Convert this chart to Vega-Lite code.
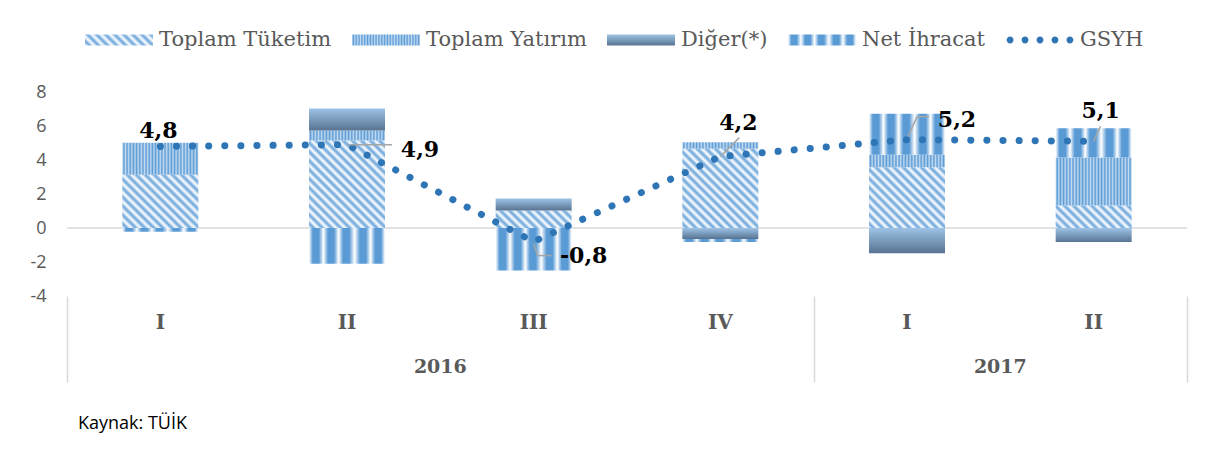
{
  "$schema": "https://vega.github.io/schema/vega-lite/v6.json",
  "width": 1120,
  "height": 204,
  "autosize": {"type": "none"},
  "padding": {"left": 67, "top": 92, "right": 28, "bottom": 154},
  "background": "white",
  "config": {
    "view": {"stroke": null},
    "scale": {"continuousPadding": 0},
    "axisY": {"labelOverlap": false, "labelBound": false, "labelFlush": false, "domain": false, "ticks": false, "grid": false, "labelFont": "Open Sans", "labelFontSize": 18, "labelColor": "#595959", "labelPadding": 21, "tickCount": 7},
    "axisX": {"labels": false, "domain": false, "grid": false, "ticks": true, "tickSize": 86, "tickColor": "#d9d9d9", "tickWidth": 1.5},
    "locale": {"number": {"decimal": ",", "thousands": ".", "grouping": [3], "currency": ["", ""], "minus": "-"}}
  },
  "title": {"text": "Kaynak: TÜİK", "orient": "bottom", "anchor": "start", "frame": "group", "font": "Open Sans", "fontSize": 18, "fontWeight": "normal", "color": "#000000", "offset": 32, "dx": 11},
  "datasets": {
    "comp": [
      {"idx": 0, "period": "2016-I", "component": "Toplam Tüketim", "order": 1, "value": 3.13},
      {"idx": 0, "period": "2016-I", "component": "Toplam Yatırım", "order": 2, "value": 1.88},
      {"idx": 0, "period": "2016-I", "component": "Net İhracat", "order": 4, "value": -0.22},
      {"idx": 1, "period": "2016-II", "component": "Toplam Tüketim", "order": 1, "value": 5.15},
      {"idx": 1, "period": "2016-II", "component": "Toplam Yatırım", "order": 2, "value": 0.59},
      {"idx": 1, "period": "2016-II", "component": "Diğer(*)", "order": 3, "value": 1.29},
      {"idx": 1, "period": "2016-II", "component": "Net İhracat", "order": 4, "value": -2.1},
      {"idx": 2, "period": "2016-III", "component": "Toplam Tüketim", "order": 1, "value": 1.03},
      {"idx": 2, "period": "2016-III", "component": "Diğer(*)", "order": 3, "value": 0.7},
      {"idx": 2, "period": "2016-III", "component": "Net İhracat", "order": 4, "value": -2.5},
      {"idx": 3, "period": "2016-IV", "component": "Toplam Tüketim", "order": 1, "value": 4.66},
      {"idx": 3, "period": "2016-IV", "component": "Toplam Yatırım", "order": 2, "value": 0.39},
      {"idx": 3, "period": "2016-IV", "component": "Diğer(*)", "order": 3, "value": -0.64},
      {"idx": 3, "period": "2016-IV", "component": "Net İhracat", "order": 4, "value": -0.19},
      {"idx": 4, "period": "2017-I", "component": "Toplam Tüketim", "order": 1, "value": 3.58},
      {"idx": 4, "period": "2017-I", "component": "Toplam Yatırım", "order": 2, "value": 0.73},
      {"idx": 4, "period": "2017-I", "component": "Diğer(*)", "order": 3, "value": -1.48},
      {"idx": 4, "period": "2017-I", "component": "Net İhracat", "order": 4, "value": 2.41},
      {"idx": 5, "period": "2017-II", "component": "Toplam Tüketim", "order": 1, "value": 1.32},
      {"idx": 5, "period": "2017-II", "component": "Toplam Yatırım", "order": 2, "value": 2.83},
      {"idx": 5, "period": "2017-II", "component": "Diğer(*)", "order": 3, "value": -0.83},
      {"idx": 5, "period": "2017-II", "component": "Net İhracat", "order": 4, "value": 1.72}
    ],
    "gdp": [
      {"idx": 0, "period": "2016-I", "year": "2016", "q": "I", "series": "GSYH", "gsyh": 4.8},
      {"idx": 1, "period": "2016-II", "year": "2016", "q": "II", "series": "GSYH", "gsyh": 4.9},
      {"idx": 2, "period": "2016-III", "year": "2016", "q": "III", "series": "GSYH", "gsyh": -0.8},
      {"idx": 3, "period": "2016-IV", "year": "2016", "q": "IV", "series": "GSYH", "gsyh": 4.2},
      {"idx": 4, "period": "2017-I", "year": "2017", "q": "I", "series": "GSYH", "gsyh": 5.2},
      {"idx": 5, "period": "2017-II", "year": "2017", "q": "II", "series": "GSYH", "gsyh": 5.1}
    ]
  },
  "layer": [
    {
      "data": {"values": [{}]},
      "mark": {"type": "rule", "color": "#d9d9d9", "strokeWidth": 1.5},
      "encoding": {"y": {"datum": 0, "type": "quantitative", "axis": {"title": null, "values": [-4, -2, 0, 2, 4, 6, 8]}}}
    },
    {
      "data": {"name": "comp"},
      "transform": [
        {"stack": "value", "groupby": ["idx"], "sort": [{"field": "order", "order": "ascending"}], "as": ["v0", "v1"]}
      ],
      "mark": {"type": "bar", "width": 76, "strokeWidth": 0},
      "encoding": {
        "x": {"field": "idx", "type": "quantitative", "scale": {"domain": [-0.5, 5.5], "nice": false, "zero": false, "padding": 0},
          "axis": {"title": null, "values": [-0.5, 3.5, 5.5]}},
        "y": {"field": "v0", "type": "quantitative", "scale": {"domain": [-4, 8], "nice": false, "zero": false, "padding": 0},
          "axis": {"title": null, "values": [-4, -2, 0, 2, 4, 6, 8]}},
        "y2": {"field": "v1"},
        "fill": {
          "condition": [
            {"test": "datum.component === 'Toplam Tüketim' && datum.idx === 0", "value": {"gradient": "linear", "x1": 0, "y1": 1, "x2": 1.583, "y2": -0.124, "stops": [{"offset":0,"color":"#ffffff"},{"offset":0.025,"color":"#6aa5db"},{"offset":0.05,"color":"#ffffff"},{"offset":0.075,"color":"#6aa5db"},{"offset":0.1,"color":"#ffffff"},{"offset":0.125,"color":"#6aa5db"},{"offset":0.15,"color":"#ffffff"},{"offset":0.175,"color":"#6aa5db"},{"offset":0.2,"color":"#ffffff"},{"offset":0.225,"color":"#6aa5db"},{"offset":0.25,"color":"#ffffff"},{"offset":0.275,"color":"#6aa5db"},{"offset":0.3,"color":"#ffffff"},{"offset":0.325,"color":"#6aa5db"},{"offset":0.35,"color":"#ffffff"},{"offset":0.375,"color":"#6aa5db"},{"offset":0.4,"color":"#ffffff"},{"offset":0.425,"color":"#6aa5db"},{"offset":0.45,"color":"#ffffff"},{"offset":0.475,"color":"#6aa5db"},{"offset":0.5,"color":"#ffffff"},{"offset":0.525,"color":"#6aa5db"},{"offset":0.55,"color":"#ffffff"},{"offset":0.575,"color":"#6aa5db"},{"offset":0.6,"color":"#ffffff"},{"offset":0.625,"color":"#6aa5db"},{"offset":0.65,"color":"#ffffff"},{"offset":0.675,"color":"#6aa5db"},{"offset":0.7,"color":"#ffffff"},{"offset":0.725,"color":"#6aa5db"},{"offset":0.75,"color":"#ffffff"},{"offset":0.775,"color":"#6aa5db"},{"offset":0.8,"color":"#ffffff"},{"offset":0.825,"color":"#6aa5db"},{"offset":0.85,"color":"#ffffff"},{"offset":0.875,"color":"#6aa5db"},{"offset":0.9,"color":"#ffffff"},{"offset":0.925,"color":"#6aa5db"},{"offset":0.95,"color":"#ffffff"},{"offset":0.975,"color":"#6aa5db"},{"offset":1,"color":"#ffffff"}]}},
            {"test": "datum.component === 'Toplam Tüketim' && datum.idx === 1", "value": {"gradient": "linear", "x1": 0, "y1": 1, "x2": 1.017, "y2": -0.178, "stops": [{"offset":0,"color":"#ffffff"},{"offset":0.025,"color":"#6aa5db"},{"offset":0.05,"color":"#ffffff"},{"offset":0.075,"color":"#6aa5db"},{"offset":0.1,"color":"#ffffff"},{"offset":0.125,"color":"#6aa5db"},{"offset":0.15,"color":"#ffffff"},{"offset":0.175,"color":"#6aa5db"},{"offset":0.2,"color":"#ffffff"},{"offset":0.225,"color":"#6aa5db"},{"offset":0.25,"color":"#ffffff"},{"offset":0.275,"color":"#6aa5db"},{"offset":0.3,"color":"#ffffff"},{"offset":0.325,"color":"#6aa5db"},{"offset":0.35,"color":"#ffffff"},{"offset":0.375,"color":"#6aa5db"},{"offset":0.4,"color":"#ffffff"},{"offset":0.425,"color":"#6aa5db"},{"offset":0.45,"color":"#ffffff"},{"offset":0.475,"color":"#6aa5db"},{"offset":0.5,"color":"#ffffff"},{"offset":0.525,"color":"#6aa5db"},{"offset":0.55,"color":"#ffffff"},{"offset":0.575,"color":"#6aa5db"},{"offset":0.6,"color":"#ffffff"},{"offset":0.625,"color":"#6aa5db"},{"offset":0.65,"color":"#ffffff"},{"offset":0.675,"color":"#6aa5db"},{"offset":0.7,"color":"#ffffff"},{"offset":0.725,"color":"#6aa5db"},{"offset":0.75,"color":"#ffffff"},{"offset":0.775,"color":"#6aa5db"},{"offset":0.8,"color":"#ffffff"},{"offset":0.825,"color":"#6aa5db"},{"offset":0.85,"color":"#ffffff"},{"offset":0.875,"color":"#6aa5db"},{"offset":0.9,"color":"#ffffff"},{"offset":0.925,"color":"#6aa5db"},{"offset":0.95,"color":"#ffffff"},{"offset":0.975,"color":"#6aa5db"},{"offset":1,"color":"#ffffff"}]}},
            {"test": "datum.component === 'Toplam Tüketim' && datum.idx === 2", "value": {"gradient": "linear", "x1": 0, "y1": 1, "x2": 2.255, "y2": 0.466, "stops": [{"offset":0,"color":"#ffffff"},{"offset":0.025,"color":"#6aa5db"},{"offset":0.05,"color":"#ffffff"},{"offset":0.075,"color":"#6aa5db"},{"offset":0.1,"color":"#ffffff"},{"offset":0.125,"color":"#6aa5db"},{"offset":0.15,"color":"#ffffff"},{"offset":0.175,"color":"#6aa5db"},{"offset":0.2,"color":"#ffffff"},{"offset":0.225,"color":"#6aa5db"},{"offset":0.25,"color":"#ffffff"},{"offset":0.275,"color":"#6aa5db"},{"offset":0.3,"color":"#ffffff"},{"offset":0.325,"color":"#6aa5db"},{"offset":0.35,"color":"#ffffff"},{"offset":0.375,"color":"#6aa5db"},{"offset":0.4,"color":"#ffffff"},{"offset":0.425,"color":"#6aa5db"},{"offset":0.45,"color":"#ffffff"},{"offset":0.475,"color":"#6aa5db"},{"offset":0.5,"color":"#ffffff"},{"offset":0.525,"color":"#6aa5db"},{"offset":0.55,"color":"#ffffff"},{"offset":0.575,"color":"#6aa5db"},{"offset":0.6,"color":"#ffffff"},{"offset":0.625,"color":"#6aa5db"},{"offset":0.65,"color":"#ffffff"},{"offset":0.675,"color":"#6aa5db"},{"offset":0.7,"color":"#ffffff"},{"offset":0.725,"color":"#6aa5db"},{"offset":0.75,"color":"#ffffff"},{"offset":0.775,"color":"#6aa5db"},{"offset":0.8,"color":"#ffffff"},{"offset":0.825,"color":"#6aa5db"},{"offset":0.85,"color":"#ffffff"},{"offset":0.875,"color":"#6aa5db"},{"offset":0.9,"color":"#ffffff"},{"offset":0.925,"color":"#6aa5db"},{"offset":0.95,"color":"#ffffff"},{"offset":0.975,"color":"#6aa5db"},{"offset":1,"color":"#ffffff"}]}},
            {"test": "datum.component === 'Toplam Tüketim' && datum.idx === 3", "value": {"gradient": "linear", "x1": 0, "y1": 1, "x2": 1.130, "y2": -0.189, "stops": [{"offset":0,"color":"#ffffff"},{"offset":0.025,"color":"#6aa5db"},{"offset":0.05,"color":"#ffffff"},{"offset":0.075,"color":"#6aa5db"},{"offset":0.1,"color":"#ffffff"},{"offset":0.125,"color":"#6aa5db"},{"offset":0.15,"color":"#ffffff"},{"offset":0.175,"color":"#6aa5db"},{"offset":0.2,"color":"#ffffff"},{"offset":0.225,"color":"#6aa5db"},{"offset":0.25,"color":"#ffffff"},{"offset":0.275,"color":"#6aa5db"},{"offset":0.3,"color":"#ffffff"},{"offset":0.325,"color":"#6aa5db"},{"offset":0.35,"color":"#ffffff"},{"offset":0.375,"color":"#6aa5db"},{"offset":0.4,"color":"#ffffff"},{"offset":0.425,"color":"#6aa5db"},{"offset":0.45,"color":"#ffffff"},{"offset":0.475,"color":"#6aa5db"},{"offset":0.5,"color":"#ffffff"},{"offset":0.525,"color":"#6aa5db"},{"offset":0.55,"color":"#ffffff"},{"offset":0.575,"color":"#6aa5db"},{"offset":0.6,"color":"#ffffff"},{"offset":0.625,"color":"#6aa5db"},{"offset":0.65,"color":"#ffffff"},{"offset":0.675,"color":"#6aa5db"},{"offset":0.7,"color":"#ffffff"},{"offset":0.725,"color":"#6aa5db"},{"offset":0.75,"color":"#ffffff"},{"offset":0.775,"color":"#6aa5db"},{"offset":0.8,"color":"#ffffff"},{"offset":0.825,"color":"#6aa5db"},{"offset":0.85,"color":"#ffffff"},{"offset":0.875,"color":"#6aa5db"},{"offset":0.9,"color":"#ffffff"},{"offset":0.925,"color":"#6aa5db"},{"offset":0.95,"color":"#ffffff"},{"offset":0.975,"color":"#6aa5db"},{"offset":1,"color":"#ffffff"}]}},
            {"test": "datum.component === 'Toplam Tüketim' && datum.idx === 4", "value": {"gradient": "linear", "x1": 0, "y1": 1, "x2": 1.448, "y2": -0.163, "stops": [{"offset":0,"color":"#ffffff"},{"offset":0.025,"color":"#6aa5db"},{"offset":0.05,"color":"#ffffff"},{"offset":0.075,"color":"#6aa5db"},{"offset":0.1,"color":"#ffffff"},{"offset":0.125,"color":"#6aa5db"},{"offset":0.15,"color":"#ffffff"},{"offset":0.175,"color":"#6aa5db"},{"offset":0.2,"color":"#ffffff"},{"offset":0.225,"color":"#6aa5db"},{"offset":0.25,"color":"#ffffff"},{"offset":0.275,"color":"#6aa5db"},{"offset":0.3,"color":"#ffffff"},{"offset":0.325,"color":"#6aa5db"},{"offset":0.35,"color":"#ffffff"},{"offset":0.375,"color":"#6aa5db"},{"offset":0.4,"color":"#ffffff"},{"offset":0.425,"color":"#6aa5db"},{"offset":0.45,"color":"#ffffff"},{"offset":0.475,"color":"#6aa5db"},{"offset":0.5,"color":"#ffffff"},{"offset":0.525,"color":"#6aa5db"},{"offset":0.55,"color":"#ffffff"},{"offset":0.575,"color":"#6aa5db"},{"offset":0.6,"color":"#ffffff"},{"offset":0.625,"color":"#6aa5db"},{"offset":0.65,"color":"#ffffff"},{"offset":0.675,"color":"#6aa5db"},{"offset":0.7,"color":"#ffffff"},{"offset":0.725,"color":"#6aa5db"},{"offset":0.75,"color":"#ffffff"},{"offset":0.775,"color":"#6aa5db"},{"offset":0.8,"color":"#ffffff"},{"offset":0.825,"color":"#6aa5db"},{"offset":0.85,"color":"#ffffff"},{"offset":0.875,"color":"#6aa5db"},{"offset":0.9,"color":"#ffffff"},{"offset":0.925,"color":"#6aa5db"},{"offset":0.95,"color":"#ffffff"},{"offset":0.975,"color":"#6aa5db"},{"offset":1,"color":"#ffffff"}]}},
            {"test": "datum.component === 'Toplam Tüketim' && datum.idx === 5", "value": {"gradient": "linear", "x1": 0, "y1": 1, "x2": 2.182, "y2": 0.340, "stops": [{"offset":0,"color":"#ffffff"},{"offset":0.025,"color":"#6aa5db"},{"offset":0.05,"color":"#ffffff"},{"offset":0.075,"color":"#6aa5db"},{"offset":0.1,"color":"#ffffff"},{"offset":0.125,"color":"#6aa5db"},{"offset":0.15,"color":"#ffffff"},{"offset":0.175,"color":"#6aa5db"},{"offset":0.2,"color":"#ffffff"},{"offset":0.225,"color":"#6aa5db"},{"offset":0.25,"color":"#ffffff"},{"offset":0.275,"color":"#6aa5db"},{"offset":0.3,"color":"#ffffff"},{"offset":0.325,"color":"#6aa5db"},{"offset":0.35,"color":"#ffffff"},{"offset":0.375,"color":"#6aa5db"},{"offset":0.4,"color":"#ffffff"},{"offset":0.425,"color":"#6aa5db"},{"offset":0.45,"color":"#ffffff"},{"offset":0.475,"color":"#6aa5db"},{"offset":0.5,"color":"#ffffff"},{"offset":0.525,"color":"#6aa5db"},{"offset":0.55,"color":"#ffffff"},{"offset":0.575,"color":"#6aa5db"},{"offset":0.6,"color":"#ffffff"},{"offset":0.625,"color":"#6aa5db"},{"offset":0.65,"color":"#ffffff"},{"offset":0.675,"color":"#6aa5db"},{"offset":0.7,"color":"#ffffff"},{"offset":0.725,"color":"#6aa5db"},{"offset":0.75,"color":"#ffffff"},{"offset":0.775,"color":"#6aa5db"},{"offset":0.8,"color":"#ffffff"},{"offset":0.825,"color":"#6aa5db"},{"offset":0.85,"color":"#ffffff"},{"offset":0.875,"color":"#6aa5db"},{"offset":0.9,"color":"#ffffff"},{"offset":0.925,"color":"#6aa5db"},{"offset":0.95,"color":"#ffffff"},{"offset":0.975,"color":"#6aa5db"},{"offset":1,"color":"#ffffff"}]}},
            {"test": "datum.component === 'Toplam Yatırım'", "value": {"gradient": "linear", "x1": 0, "y1": 0, "x2": 1, "y2": 0, "stops": [{"offset":0,"color":"#c2daf1"},{"offset":0.0208,"color":"#5b9bd5"},{"offset":0.0417,"color":"#c2daf1"},{"offset":0.0625,"color":"#5b9bd5"},{"offset":0.0833,"color":"#c2daf1"},{"offset":0.1042,"color":"#5b9bd5"},{"offset":0.125,"color":"#c2daf1"},{"offset":0.1458,"color":"#5b9bd5"},{"offset":0.1667,"color":"#c2daf1"},{"offset":0.1875,"color":"#5b9bd5"},{"offset":0.2083,"color":"#c2daf1"},{"offset":0.2292,"color":"#5b9bd5"},{"offset":0.25,"color":"#c2daf1"},{"offset":0.2708,"color":"#5b9bd5"},{"offset":0.2917,"color":"#c2daf1"},{"offset":0.3125,"color":"#5b9bd5"},{"offset":0.3333,"color":"#c2daf1"},{"offset":0.3542,"color":"#5b9bd5"},{"offset":0.375,"color":"#c2daf1"},{"offset":0.3958,"color":"#5b9bd5"},{"offset":0.4167,"color":"#c2daf1"},{"offset":0.4375,"color":"#5b9bd5"},{"offset":0.4583,"color":"#c2daf1"},{"offset":0.4792,"color":"#5b9bd5"},{"offset":0.5,"color":"#c2daf1"},{"offset":0.5208,"color":"#5b9bd5"},{"offset":0.5417,"color":"#c2daf1"},{"offset":0.5625,"color":"#5b9bd5"},{"offset":0.5833,"color":"#c2daf1"},{"offset":0.6042,"color":"#5b9bd5"},{"offset":0.625,"color":"#c2daf1"},{"offset":0.6458,"color":"#5b9bd5"},{"offset":0.6667,"color":"#c2daf1"},{"offset":0.6875,"color":"#5b9bd5"},{"offset":0.7083,"color":"#c2daf1"},{"offset":0.7292,"color":"#5b9bd5"},{"offset":0.75,"color":"#c2daf1"},{"offset":0.7708,"color":"#5b9bd5"},{"offset":0.7917,"color":"#c2daf1"},{"offset":0.8125,"color":"#5b9bd5"},{"offset":0.8333,"color":"#c2daf1"},{"offset":0.8542,"color":"#5b9bd5"},{"offset":0.875,"color":"#c2daf1"},{"offset":0.8958,"color":"#5b9bd5"},{"offset":0.9167,"color":"#c2daf1"},{"offset":0.9375,"color":"#5b9bd5"},{"offset":0.9583,"color":"#c2daf1"},{"offset":0.9792,"color":"#5b9bd5"},{"offset":1,"color":"#c2daf1"}]}},
            {"test": "datum.component === 'Diğer(*)'", "value": {"gradient": "linear", "x1": 0, "y1": 0, "x2": 0, "y2": 1, "stops": [{"offset": 0, "color": "#9dc3e6"}, {"offset": 1, "color": "#587391"}]}}
          ],
          "value": {"gradient": "linear", "x1": 0, "y1": 0, "x2": 1, "y2": 0, "stops": [{"offset":0,"color":"#ffffff"},{"offset":0.05,"color":"#5b9bd5"},{"offset":0.13,"color":"#5b9bd5"},{"offset":0.19,"color":"#ffffff"},{"offset":0.25,"color":"#5b9bd5"},{"offset":0.33,"color":"#5b9bd5"},{"offset":0.39,"color":"#ffffff"},{"offset":0.45,"color":"#5b9bd5"},{"offset":0.53,"color":"#5b9bd5"},{"offset":0.6,"color":"#ffffff"},{"offset":0.67,"color":"#5b9bd5"},{"offset":0.75,"color":"#5b9bd5"},{"offset":0.81,"color":"#ffffff"},{"offset":0.87,"color":"#5b9bd5"},{"offset":0.95,"color":"#5b9bd5"},{"offset":1,"color":"#ffffff"}]}
        }
      }
    },
    {
      "data": {"name": "gdp"},
      "mark": {"type": "line", "interpolate": "linear", "strokeWidth": 7, "strokeDash": [0.1, 16], "strokeCap": "round"},
      "encoding": {
        "x": {"field": "idx", "type": "quantitative"},
        "y": {"field": "gsyh", "type": "quantitative"},
        "color": {
          "field": "series", "type": "nominal",
          "scale": {"domain": ["Toplam Tüketim", "Toplam Yatırım", "Diğer(*)", "Net İhracat", "GSYH"], "range": ["#a9cbeb", "#7eb0e0", "#7d9cc0", "#5b9bd5", "#2e75b6"]},
          "legend": {
            "orient": "none", "legendX": 18, "legendY": -86, "direction": "horizontal", "columns": 5, "title": null, "padding": 0,
            "symbolType": "M-1,-0.16H1V0.16H-1Z", "symbolSize": 4624, "symbolStrokeWidth": 0,
            "labelFont": "DejaVu Serif", "labelFontSize": 21, "labelColor": "#595959", "labelOffset": 6, "columnPadding": 20, "labelLimit": 400,
            "encode": {
              "symbols": {
                "update": {
                  "shape": [
                    {"test": "datum.value === 'GSYH'", "value": "M-0.98,0A0.1,0.1,0,1,0,-0.78,0A0.1,0.1,0,1,0,-0.98,0ZM-0.54,0A0.1,0.1,0,1,0,-0.34,0A0.1,0.1,0,1,0,-0.54,0ZM-0.1,0A0.1,0.1,0,1,0,0.1,0A0.1,0.1,0,1,0,-0.1,0ZM0.34,0A0.1,0.1,0,1,0,0.54,0A0.1,0.1,0,1,0,0.34,0ZM0.78,0A0.1,0.1,0,1,0,0.98,0A0.1,0.1,0,1,0,0.78,0Z"},
                    {"value": "M-1,-0.16H1V0.16H-1Z"}
                  ],
                  "stroke": {"value": "transparent"},
                  "strokeWidth": {"value": 0},
                  "opacity": {"value": 1},
                  "fill": [
                    {"test": "datum.value === 'Toplam Tüketim'", "value": {"gradient": "linear", "x1": 0, "y1": 1, "x2": 2.594, "y2": 0.580, "stops": [{"offset":0,"color":"#ffffff"},{"offset":0.025,"color":"#6aa5db"},{"offset":0.05,"color":"#ffffff"},{"offset":0.075,"color":"#6aa5db"},{"offset":0.1,"color":"#ffffff"},{"offset":0.125,"color":"#6aa5db"},{"offset":0.15,"color":"#ffffff"},{"offset":0.175,"color":"#6aa5db"},{"offset":0.2,"color":"#ffffff"},{"offset":0.225,"color":"#6aa5db"},{"offset":0.25,"color":"#ffffff"},{"offset":0.275,"color":"#6aa5db"},{"offset":0.3,"color":"#ffffff"},{"offset":0.325,"color":"#6aa5db"},{"offset":0.35,"color":"#ffffff"},{"offset":0.375,"color":"#6aa5db"},{"offset":0.4,"color":"#ffffff"},{"offset":0.425,"color":"#6aa5db"},{"offset":0.45,"color":"#ffffff"},{"offset":0.475,"color":"#6aa5db"},{"offset":0.5,"color":"#ffffff"},{"offset":0.525,"color":"#6aa5db"},{"offset":0.55,"color":"#ffffff"},{"offset":0.575,"color":"#6aa5db"},{"offset":0.6,"color":"#ffffff"},{"offset":0.625,"color":"#6aa5db"},{"offset":0.65,"color":"#ffffff"},{"offset":0.675,"color":"#6aa5db"},{"offset":0.7,"color":"#ffffff"},{"offset":0.725,"color":"#6aa5db"},{"offset":0.75,"color":"#ffffff"},{"offset":0.775,"color":"#6aa5db"},{"offset":0.8,"color":"#ffffff"},{"offset":0.825,"color":"#6aa5db"},{"offset":0.85,"color":"#ffffff"},{"offset":0.875,"color":"#6aa5db"},{"offset":0.9,"color":"#ffffff"},{"offset":0.925,"color":"#6aa5db"},{"offset":0.95,"color":"#ffffff"},{"offset":0.975,"color":"#6aa5db"},{"offset":1,"color":"#ffffff"}]}},
                    {"test": "datum.value === 'Toplam Yatırım'", "value": {"gradient": "linear", "x1": 0, "y1": 0, "x2": 1, "y2": 0, "stops": [{"offset":0,"color":"#c2daf1"},{"offset":0.0208,"color":"#5b9bd5"},{"offset":0.0417,"color":"#c2daf1"},{"offset":0.0625,"color":"#5b9bd5"},{"offset":0.0833,"color":"#c2daf1"},{"offset":0.1042,"color":"#5b9bd5"},{"offset":0.125,"color":"#c2daf1"},{"offset":0.1458,"color":"#5b9bd5"},{"offset":0.1667,"color":"#c2daf1"},{"offset":0.1875,"color":"#5b9bd5"},{"offset":0.2083,"color":"#c2daf1"},{"offset":0.2292,"color":"#5b9bd5"},{"offset":0.25,"color":"#c2daf1"},{"offset":0.2708,"color":"#5b9bd5"},{"offset":0.2917,"color":"#c2daf1"},{"offset":0.3125,"color":"#5b9bd5"},{"offset":0.3333,"color":"#c2daf1"},{"offset":0.3542,"color":"#5b9bd5"},{"offset":0.375,"color":"#c2daf1"},{"offset":0.3958,"color":"#5b9bd5"},{"offset":0.4167,"color":"#c2daf1"},{"offset":0.4375,"color":"#5b9bd5"},{"offset":0.4583,"color":"#c2daf1"},{"offset":0.4792,"color":"#5b9bd5"},{"offset":0.5,"color":"#c2daf1"},{"offset":0.5208,"color":"#5b9bd5"},{"offset":0.5417,"color":"#c2daf1"},{"offset":0.5625,"color":"#5b9bd5"},{"offset":0.5833,"color":"#c2daf1"},{"offset":0.6042,"color":"#5b9bd5"},{"offset":0.625,"color":"#c2daf1"},{"offset":0.6458,"color":"#5b9bd5"},{"offset":0.6667,"color":"#c2daf1"},{"offset":0.6875,"color":"#5b9bd5"},{"offset":0.7083,"color":"#c2daf1"},{"offset":0.7292,"color":"#5b9bd5"},{"offset":0.75,"color":"#c2daf1"},{"offset":0.7708,"color":"#5b9bd5"},{"offset":0.7917,"color":"#c2daf1"},{"offset":0.8125,"color":"#5b9bd5"},{"offset":0.8333,"color":"#c2daf1"},{"offset":0.8542,"color":"#5b9bd5"},{"offset":0.875,"color":"#c2daf1"},{"offset":0.8958,"color":"#5b9bd5"},{"offset":0.9167,"color":"#c2daf1"},{"offset":0.9375,"color":"#5b9bd5"},{"offset":0.9583,"color":"#c2daf1"},{"offset":0.9792,"color":"#5b9bd5"},{"offset":1,"color":"#c2daf1"}]}},
                    {"test": "datum.value === 'Diğer(*)'", "value": {"gradient": "linear", "x1": 0, "y1": 0, "x2": 0, "y2": 1, "stops": [{"offset": 0, "color": "#9dc3e6"}, {"offset": 1, "color": "#587391"}]}},
                    {"test": "datum.value === 'Net İhracat'", "value": {"gradient": "linear", "x1": 0, "y1": 0, "x2": 1, "y2": 0, "stops": [{"offset":0,"color":"#ffffff"},{"offset":0.05,"color":"#5b9bd5"},{"offset":0.13,"color":"#5b9bd5"},{"offset":0.19,"color":"#ffffff"},{"offset":0.25,"color":"#5b9bd5"},{"offset":0.33,"color":"#5b9bd5"},{"offset":0.39,"color":"#ffffff"},{"offset":0.45,"color":"#5b9bd5"},{"offset":0.53,"color":"#5b9bd5"},{"offset":0.6,"color":"#ffffff"},{"offset":0.67,"color":"#5b9bd5"},{"offset":0.75,"color":"#5b9bd5"},{"offset":0.81,"color":"#ffffff"},{"offset":0.87,"color":"#5b9bd5"},{"offset":0.95,"color":"#5b9bd5"},{"offset":1,"color":"#ffffff"}]}},
                    {"value": "#2e75b6"}
                  ]
                }
              }
            }
          }
        }
      }
    },
    {
      "data": {"name": "gdp"}, "transform": [{"filter": "datum.idx === 1"}],
      "mark": {"type": "rule", "color": "#a6a6a6", "strokeWidth": 1.5, "xOffset": 1, "yOffset": 0, "x2Offset": 45, "y2Offset": 0},
      "encoding": {"x": {"field": "idx", "type": "quantitative"}, "y": {"field": "gsyh", "type": "quantitative"}, "x2": {"field": "idx"}, "y2": {"field": "gsyh"}}
    },
    {
      "data": {"name": "gdp"}, "transform": [{"filter": "datum.idx === 2"}],
      "mark": {"type": "rule", "color": "#a6a6a6", "strokeWidth": 1.5, "xOffset": 0, "yOffset": 2, "x2Offset": 4, "y2Offset": 14},
      "encoding": {"x": {"field": "idx", "type": "quantitative"}, "y": {"field": "gsyh", "type": "quantitative"}, "x2": {"field": "idx"}, "y2": {"field": "gsyh"}}
    },
    {
      "data": {"name": "gdp"}, "transform": [{"filter": "datum.idx === 2"}],
      "mark": {"type": "rule", "color": "#a6a6a6", "strokeWidth": 1.5, "xOffset": 4, "yOffset": 14, "x2Offset": 18, "y2Offset": 14},
      "encoding": {"x": {"field": "idx", "type": "quantitative"}, "y": {"field": "gsyh", "type": "quantitative"}, "x2": {"field": "idx"}, "y2": {"field": "gsyh"}}
    },
    {
      "data": {"name": "gdp"}, "transform": [{"filter": "datum.idx === 3"}],
      "mark": {"type": "rule", "color": "#a6a6a6", "strokeWidth": 1.5, "xOffset": 0, "yOffset": 0, "x2Offset": 19, "y2Offset": -19},
      "encoding": {"x": {"field": "idx", "type": "quantitative"}, "y": {"field": "gsyh", "type": "quantitative"}, "x2": {"field": "idx"}, "y2": {"field": "gsyh"}}
    },
    {
      "data": {"name": "gdp"}, "transform": [{"filter": "datum.idx === 4"}],
      "mark": {"type": "rule", "color": "#a6a6a6", "strokeWidth": 1.5, "xOffset": 1, "yOffset": -3, "x2Offset": 10, "y2Offset": -23},
      "encoding": {"x": {"field": "idx", "type": "quantitative"}, "y": {"field": "gsyh", "type": "quantitative"}, "x2": {"field": "idx"}, "y2": {"field": "gsyh"}}
    },
    {
      "data": {"name": "gdp"}, "transform": [{"filter": "datum.idx === 4"}],
      "mark": {"type": "rule", "color": "#a6a6a6", "strokeWidth": 1.5, "xOffset": 10, "yOffset": -23, "x2Offset": 22, "y2Offset": -23},
      "encoding": {"x": {"field": "idx", "type": "quantitative"}, "y": {"field": "gsyh", "type": "quantitative"}, "x2": {"field": "idx"}, "y2": {"field": "gsyh"}}
    },
    {
      "data": {"name": "gdp"}, "transform": [{"filter": "datum.idx === 5"}],
      "mark": {"type": "rule", "color": "#a6a6a6", "strokeWidth": 1.5, "xOffset": 0, "yOffset": 0, "x2Offset": 7, "y2Offset": -15},
      "encoding": {"x": {"field": "idx", "type": "quantitative"}, "y": {"field": "gsyh", "type": "quantitative"}, "x2": {"field": "idx"}, "y2": {"field": "gsyh"}}
    },
    {
      "data": {"name": "gdp"}, "transform": [{"filter": "datum.idx === 0"}],
      "mark": {"type": "text", "font": "DejaVu Serif", "fontWeight": "bold", "fontSize": 22, "color": "#000000", "align": "center", "baseline": "middle", "dx": -2, "dy": -15},
      "encoding": {"x": {"field": "idx", "type": "quantitative"}, "y": {"field": "gsyh", "type": "quantitative"}, "text": {"field": "gsyh", "type": "quantitative", "format": ".1f"}}
    },
    {
      "data": {"name": "gdp"}, "transform": [{"filter": "datum.idx === 1"}],
      "mark": {"type": "text", "font": "DejaVu Serif", "fontWeight": "bold", "fontSize": 22, "color": "#000000", "align": "center", "baseline": "middle", "dx": 73, "dy": 5},
      "encoding": {"x": {"field": "idx", "type": "quantitative"}, "y": {"field": "gsyh", "type": "quantitative"}, "text": {"field": "gsyh", "type": "quantitative", "format": ".1f"}}
    },
    {
      "data": {"name": "gdp"}, "transform": [{"filter": "datum.idx === 2"}],
      "mark": {"type": "text", "font": "DejaVu Serif", "fontWeight": "bold", "fontSize": 22, "color": "#000000", "align": "center", "baseline": "middle", "dx": 50, "dy": 14},
      "encoding": {"x": {"field": "idx", "type": "quantitative"}, "y": {"field": "gsyh", "type": "quantitative"}, "text": {"field": "gsyh", "type": "quantitative", "format": ".1f"}}
    },
    {
      "data": {"name": "gdp"}, "transform": [{"filter": "datum.idx === 3"}],
      "mark": {"type": "text", "font": "DejaVu Serif", "fontWeight": "bold", "fontSize": 22, "color": "#000000", "align": "center", "baseline": "middle", "dx": 18, "dy": -34},
      "encoding": {"x": {"field": "idx", "type": "quantitative"}, "y": {"field": "gsyh", "type": "quantitative"}, "text": {"field": "gsyh", "type": "quantitative", "format": ".1f"}}
    },
    {
      "data": {"name": "gdp"}, "transform": [{"filter": "datum.idx === 4"}],
      "mark": {"type": "text", "font": "DejaVu Serif", "fontWeight": "bold", "fontSize": 22, "color": "#000000", "align": "center", "baseline": "middle", "dx": 50, "dy": -20},
      "encoding": {"x": {"field": "idx", "type": "quantitative"}, "y": {"field": "gsyh", "type": "quantitative"}, "text": {"field": "gsyh", "type": "quantitative", "format": ".1f"}}
    },
    {
      "data": {"name": "gdp"}, "transform": [{"filter": "datum.idx === 5"}],
      "mark": {"type": "text", "font": "DejaVu Serif", "fontWeight": "bold", "fontSize": 22, "color": "#000000", "align": "center", "baseline": "middle", "dx": 7, "dy": -30},
      "encoding": {"x": {"field": "idx", "type": "quantitative"}, "y": {"field": "gsyh", "type": "quantitative"}, "text": {"field": "gsyh", "type": "quantitative", "format": ".1f"}}
    },
    {
      "data": {"name": "gdp"},
      "mark": {"type": "text", "font": "DejaVu Serif", "fontWeight": "bold", "fontSize": 20, "color": "#595959", "align": "center", "baseline": "middle", "dy": 27},
      "encoding": {"x": {"field": "idx", "type": "quantitative"}, "y": {"datum": -4, "type": "quantitative"}, "text": {"field": "q", "type": "nominal"}}
    },
    {
      "data": {"name": "gdp"},
      "transform": [{"aggregate": [{"op": "mean", "field": "idx", "as": "xm"}], "groupby": ["year"]}],
      "mark": {"type": "text", "font": "DejaVu Serif", "fontWeight": "bold", "fontSize": 19, "color": "#595959", "align": "center", "baseline": "middle", "dy": 71},
      "encoding": {"x": {"field": "xm", "type": "quantitative"}, "y": {"datum": -4, "type": "quantitative"}, "text": {"field": "year", "type": "nominal"}}
    }
  ]
}
